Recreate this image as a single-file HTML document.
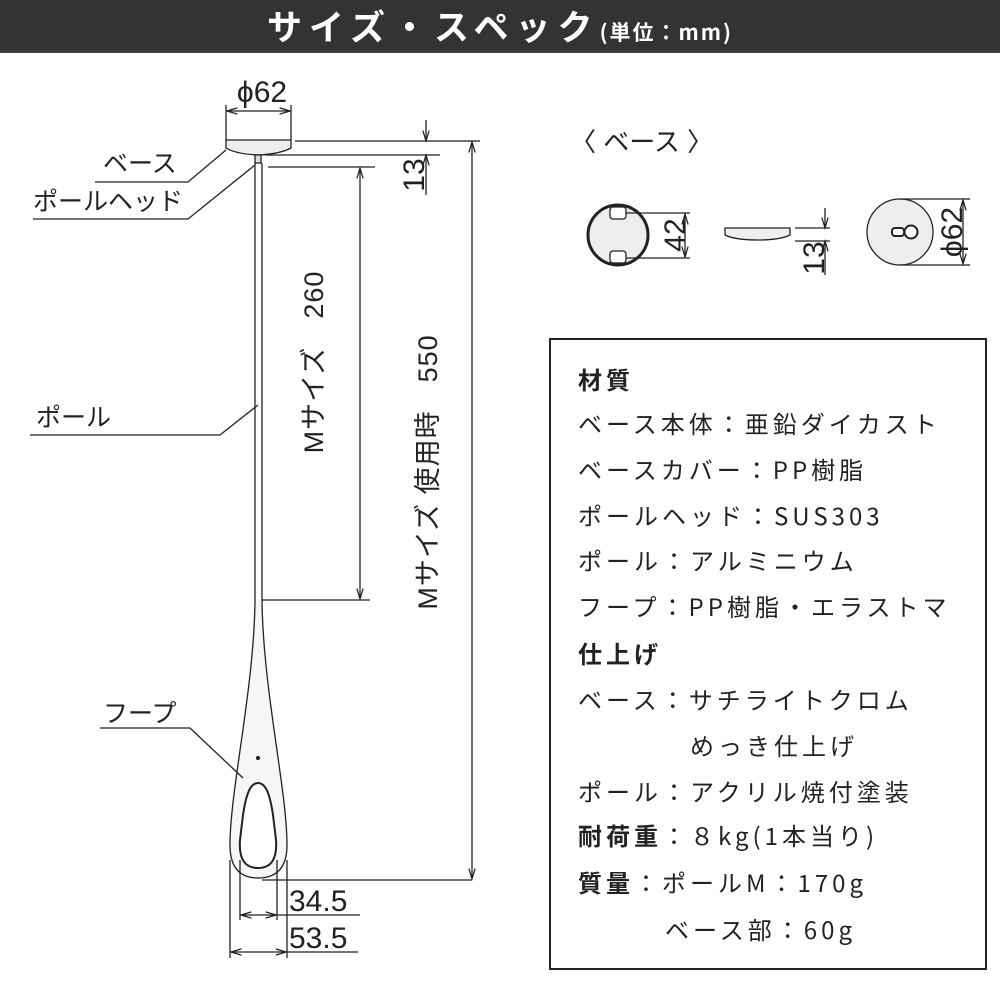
<!DOCTYPE html>
<html><head><meta charset="utf-8"><style>
body{margin:0;width:1000px;height:1000px;background:#fff;overflow:hidden;font-family:"Liberation Sans","Noto Sans CJK JP",sans-serif;}
.hdr{position:absolute;left:0;top:0;width:1000px;height:50px;background:#333331;border-bottom:3px solid #3d3d3a;}
.hdr span{position:absolute;top:0px;left:0;width:1000px;text-align:center;color:#fff;font-weight:bold;font-size:35px;letter-spacing:7px;font-family:"Noto Sans CJK JP",sans-serif;}
.hdr small{font-size:21px;letter-spacing:2px;}
.box{position:absolute;left:549px;top:338px;width:434px;height:628px;border:2px solid #222;}
.t{position:absolute;left:578px;font-size:24px;color:#222;letter-spacing:4px;font-family:"Noto Sans CJK JP",sans-serif;white-space:nowrap;}
.b{font-weight:bold;}
</style></head><body>
<div class="hdr"><span>サイズ・スペック<small>(単位：mm)</small></span></div>
<svg width="1000" height="1000" style="position:absolute;left:0;top:0" font-family="Liberation Sans, Noto Sans CJK JP, sans-serif">
<defs><marker id="a" viewBox="0 0 10 10" refX="10" refY="5" markerWidth="10" markerHeight="8" orient="auto-start-reverse"><path d="M0,2 L10,5 L0,8" fill="none" stroke="#222" stroke-width="1.2"/></marker></defs>
<g stroke="#222" stroke-width="1.3" fill="none">
<path d="M226,140 H291 V148 Q280,154 258,155 Q236,154 226,148 Z" fill="#eee"/>
<line x1="226" y1="105" x2="226" y2="140"/><line x1="291" y1="105" x2="291" y2="140"/>
<line x1="227" y1="111" x2="290" y2="111" marker-start="url(#a)" marker-end="url(#a)"/>
<rect x="255" y="155" width="6" height="8" fill="#ddd"/>
<line x1="295" y1="141" x2="480" y2="141"/>
<line x1="265" y1="155" x2="440" y2="155"/>
<line x1="268" y1="167" x2="375" y2="167"/>
<line x1="426" y1="120" x2="426" y2="141" marker-end="url(#a)"/>
<line x1="426" y1="195" x2="426" y2="155" marker-end="url(#a)"/>
<line x1="472" y1="142" x2="472" y2="879" marker-start="url(#a)" marker-end="url(#a)"/>
<line x1="360" y1="168" x2="360" y2="599" marker-start="url(#a)" marker-end="url(#a)"/>
<line x1="262" y1="600" x2="370" y2="600"/>
<line x1="255" y1="163" x2="255" y2="600"/><line x1="262" y1="163" x2="262" y2="600"/>
<path d="M255,600 C254,690 230,790 230,845 Q230,878 258,878 Q287,878 287,845 C287,790 263,690 262,600" fill="#f6f6f6"/>
<path d="M258,783 C250,783 246,795 243,815 L240,840 Q238,868 258,868 Q278,868 276,840 L273,815 C270,795 266,783 258,783 Z" fill="#fff" stroke-width="2"/>
<circle cx="258" cy="758" r="1.5" fill="#222"/>
<line x1="262" y1="880" x2="472" y2="880"/>
<line x1="240" y1="860" x2="240" y2="920"/><line x1="277" y1="860" x2="277" y2="920"/>
<line x1="230" y1="860" x2="230" y2="958"/><line x1="287" y1="860" x2="287" y2="958"/>
<line x1="241" y1="915" x2="276" y2="915" marker-start="url(#a)" marker-end="url(#a)"/>
<line x1="277" y1="915" x2="360" y2="915"/>
<line x1="231" y1="952" x2="286" y2="952" marker-start="url(#a)" marker-end="url(#a)"/>
<line x1="287" y1="952" x2="358" y2="952"/>
<polyline points="95,182 188,182 226,150"/>
<polyline points="33,219 188,219 255,165"/>
<polyline points="30,435 220,435 258,405"/>
<polyline points="100,728 190,728 243,778"/>
<circle cx="618" cy="235" r="30" fill="#eee" stroke-width="3"/>
<rect x="610" y="207" width="16" height="12" rx="3" fill="#fff"/>
<rect x="610" y="251" width="16" height="12" rx="3" fill="#fff"/>
<line x1="626" y1="213" x2="690" y2="213"/><line x1="626" y1="258" x2="690" y2="258"/>
<line x1="685" y1="214" x2="685" y2="257" marker-start="url(#a)" marker-end="url(#a)"/>
<path d="M725,228 H790 V235 Q780,240 758,240 Q735,240 725,235 Z" fill="#eee"/>
<line x1="795" y1="228" x2="830" y2="228"/><line x1="795" y1="241" x2="830" y2="241"/>
<line x1="825" y1="208" x2="825" y2="228" marker-end="url(#a)"/>
<line x1="825" y1="275" x2="825" y2="241" marker-end="url(#a)"/>
<circle cx="900" cy="232" r="33" fill="#eee"/>
<rect x="892" y="228" width="12" height="8" rx="3" fill="#fff" stroke-width="2"/>
<circle cx="911" cy="232" r="6.5" fill="#fff" stroke-width="2"/>
<line x1="900" y1="199" x2="970" y2="199"/><line x1="900" y1="265" x2="970" y2="265"/>
<line x1="963" y1="200" x2="963" y2="264" marker-start="url(#a)" marker-end="url(#a)"/>
</g>
<g fill="#222" font-size="30">
<text x="262" y="102" text-anchor="middle">ϕ62</text>
<text transform="translate(424,175) rotate(-90)" text-anchor="middle">13</text>
<text transform="translate(323,362) rotate(-90)" text-anchor="middle" font-size="27" letter-spacing="1">Mサイズ　260</text>
<text transform="translate(437,472) rotate(-90)" text-anchor="middle" font-size="27" letter-spacing="1">Mサイズ 使用時　550</text>
<text x="289" y="911">34.5</text>
<text x="289" y="948">53.5</text>
<text x="103" y="172" font-size="25">ベース</text>
<text x="33" y="210" font-size="25">ポールヘッド</text>
<text x="36" y="426" font-size="25">ポール</text>
<text x="103" y="722" font-size="25">フープ</text>
<text x="570" y="151" font-size="26">〈 ベース 〉</text>
<text transform="translate(685,235) rotate(-90)" text-anchor="middle">42</text>
<text transform="translate(824,258) rotate(-90)" text-anchor="middle">13</text>
<text transform="translate(962,232) rotate(-90)" text-anchor="middle">ϕ62</text>
</g>
</svg>
<div class="box"></div>
<div class="t b" style="top:361px">材質</div>
<div class="t" style="top:405px">ベース本体：亜鉛ダイカスト</div>
<div class="t" style="top:451px">ベースカバー：PP樹脂</div>
<div class="t" style="top:497px">ポールヘッド：SUS303</div>
<div class="t" style="top:542px">ポール：アルミニウム</div>
<div class="t" style="top:588px">フープ：PP樹脂・エラストマ</div>
<div class="t b" style="top:635px">仕上げ</div>
<div class="t" style="top:681px">ベース：サチライトクロム</div>
<div class="t" style="top:727px;left:690px">めっき仕上げ</div>
<div class="t" style="top:773px">ポール：アクリル焼付塗装</div>
<div class="t" style="top:817px"><b>耐荷重</b>：８kg(1本当り)</div>
<div class="t" style="top:864px"><b>質量</b>：ポールM：170g</div>
<div class="t" style="top:911px;left:665px">ベース部：60g</div>
</body></html>
